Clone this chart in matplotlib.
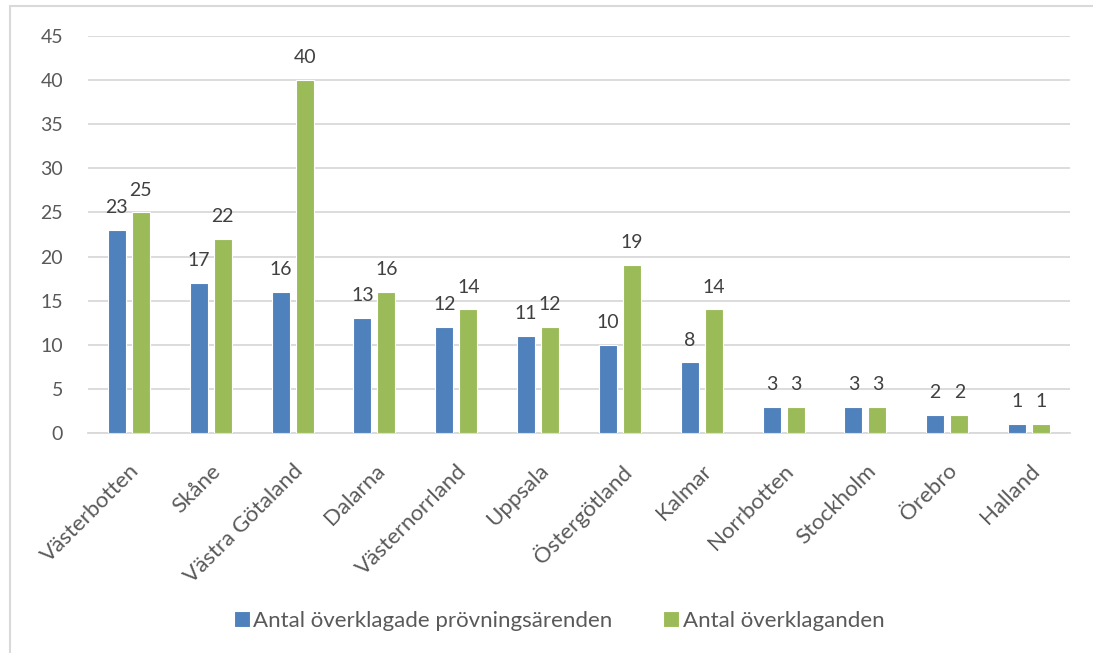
import numpy as np
import matplotlib.pyplot as plt
from matplotlib.patches import Rectangle

plt.rcParams['font.family'] = ['Lato', 'DejaVu Sans']

lan = ["Västerbotten", "Skåne", "Västra Götaland", "Dalarna", "Västernorrland",
       "Uppsala", "Östergötland", "Kalmar", "Norrbotten", "Stockholm",
       "Örebro", "Halland"]
arenden = [23, 17, 16, 13, 12, 11, 10, 8, 3, 3, 2, 1]
klagande = [25, 22, 40, 16, 14, 12, 19, 14, 3, 3, 2, 1]
yticks = list(range(0, 50, 5))

blue = "#4F81BD"
green = "#9BBB59"
grey_text = "#595959"
grid_col = "#D9D9D9"

fig = plt.figure(figsize=(10.93, 6.53), dpi=100)
ax = fig.add_axes([88 / 1093, 1 - 433 / 653, (1070 - 88) / 1093, (433 - 36) / 653])

# ram runt diagramytan
fig.patches.append(Rectangle((10 / 1093, -0.1), 1.2, 1 - 6 / 653 + 0.1,
                             transform=fig.transFigure, fill=False,
                             edgecolor=grid_col, linewidth=1.5))

x = np.arange(len(lan))
w = 0.22
off = 0.147
b1 = ax.bar(x - off, arenden, w, color=blue, edgecolor="white", linewidth=0.8,
            label="Antal överklagade prövningsärenden", zorder=3)
b2 = ax.bar(x + off, klagande, w, color=green, edgecolor="white", linewidth=0.8,
            label="Antal överklaganden", zorder=3)

for bars in (b1, b2):
    for r in bars:
        h = r.get_height()
        ax.annotate(str(int(h)), (r.get_x() + r.get_width() / 2, h),
                    xytext=(0, 10), textcoords="offset points",
                    ha="center", va="bottom", fontsize=14, color="#404040")

ax.set_xlim(-0.5, len(lan) - 0.5)
ax.set_ylim(0, 45)
ax.set_yticks(yticks)
ax.yaxis.grid(True, color=grid_col, linewidth=1.3, zorder=0)
ax.set_axisbelow(True)
for s in ("top", "right", "left"):
    ax.spines[s].set_visible(False)
ax.spines["bottom"].set_color(grid_col)
ax.spines["bottom"].set_linewidth(1.3)

ax.tick_params(axis="y", length=0, pad=18, labelsize=14, labelcolor=grey_text)
ax.tick_params(axis="x", length=0, pad=20, labelsize=16, labelcolor=grey_text)
ax.set_xticks(x)
ax.set_xticklabels(lan, rotation=45, ha="right", rotation_mode="anchor")

fig.legend(handles=[b1, b2], loc="center", bbox_to_anchor=(559 / 1093, 1 - 621 / 653),
           ncol=2, frameon=False, fontsize=16, handlelength=0.72, handleheight=0.72,
           handletextpad=0.15, columnspacing=2.3, labelcolor=grey_text)

fig.savefig("out.png", dpi=100)
